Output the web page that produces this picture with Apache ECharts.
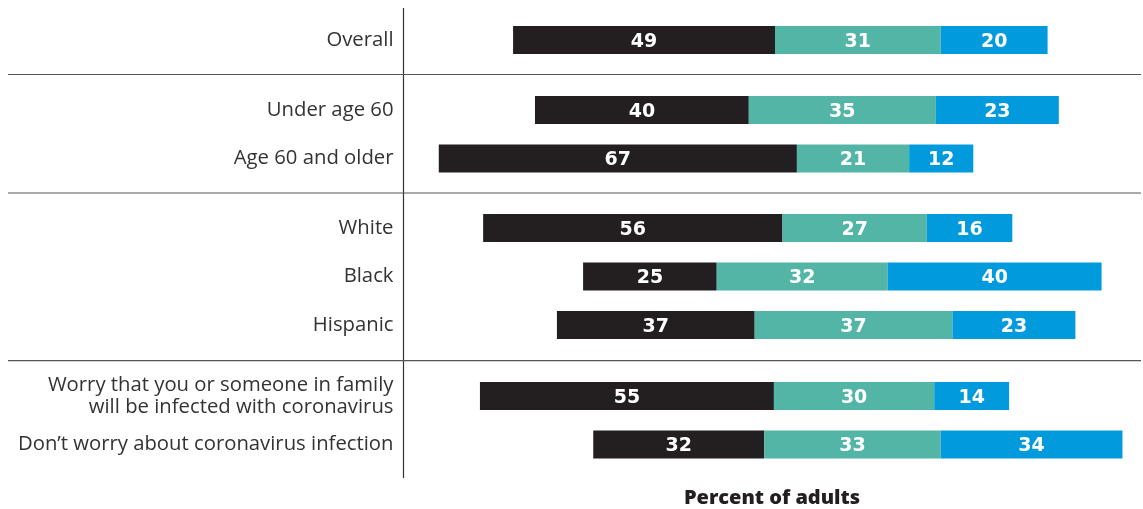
<!DOCTYPE html>
<html>
<head>
<meta charset="utf-8">
<script src="https://cdn.jsdelivr.net/npm/echarts@6/dist/echarts.min.js"></script>
<style>html,body{margin:0;padding:0;background:#fff;}#c{width:1143px;height:509px;}</style>
</head>
<body>
<div id="c"></div>
<script>
const categories = [
  'Overall',
  'Under age 60', 'Age 60 and older',
  'White', 'Black', 'Hispanic',
  'Worry that you or someone in family\nwill be infected with coronavirus',
  'Don\u2019t worry about coronavirus infection'
];
const groupSizes = [1, 2, 3, 2];
const offsets = [20.5, 24.6, 6.6, 14.9, 33.6, 28.7, 14.3, 35.5];
const blackVals = [49, 40, 67, 56, 25, 37, 55, 32];
const tealVals = [31, 35, 21, 27, 32, 37, 30, 33];
const blueVals = [20, 23, 12, 16, 40, 23, 14, 34];
const xMax = 135;

const FONT = 'Open Sans';
const chart = echarts.init(document.getElementById('c'), null, {renderer: 'canvas'});

const rowPitch = 48.5;
const grids = [], xAxes = [], yAxes = [], series = [];
const groupCenters = [40, 110, 228, 396];
let idx = 0;
groupSizes.forEach((n, g) => {
  const top = groupCenters[g] - rowPitch / 2;
  grids.push({left: 403.5, right: 17.9, top: top, height: rowPitch * n});
  xAxes.push({type: 'value', gridIndex: g, min: 0, max: xMax, show: false});
  yAxes.push({
    type: 'category', gridIndex: g, inverse: true,
    data: categories.slice(idx, idx + n),
    axisLine: {show: false}, axisTick: {show: false}, splitLine: {show: false},
    axisLabel: {color: '#333', fontFamily: FONT, fontSize: 20.3, margin: 10, lineHeight: 21.5,
      padding: [6, 0, 0, 0]}
  });
  const mk = (name, vals, color, lab) => ({
    name: name, type: 'bar', stack: 's' + g, xAxisIndex: g, yAxisIndex: g,
    barWidth: 28, data: vals.slice(idx, idx + n),
    itemStyle: {color: color}, silent: !lab,
    label: lab ? {show: true, position: 'inside', offset: [0, 2], color: '#fff', fontFamily: 'DejaVu Sans',
      fontWeight: 'bold', fontSize: 19} : {show: false}
  });
  series.push(mk('offset', offsets, 'rgba(0,0,0,0)', false));
  series.push(mk('black', blackVals, '#231f20', true));
  series.push(mk('teal', tealVals, '#53b5a6', true));
  series.push(mk('blue', blueVals, '#009add', true));
  idx += n;
});

const lineStyle = {stroke: '#555', lineWidth: 1.2};
chart.setOption({
  animation: false,
  grid: grids, xAxis: xAxes, yAxis: yAxes, series: series,
  graphic: [
    {type: 'line', shape: {x1: 403.5, y1: 8, x2: 403.5, y2: 478}, style: {stroke: '#333', lineWidth: 1.2}},
    {type: 'line', shape: {x1: 8, y1: 74.5, x2: 1141, y2: 74.5}, style: lineStyle},
    {type: 'line', shape: {x1: 8, y1: 193, x2: 1141, y2: 193}, style: lineStyle},
    {type: 'line', shape: {x1: 8, y1: 360.7, x2: 1141, y2: 360.7}, style: lineStyle},
    {type: 'text', x: 772, y: 498, style: {text: 'Percent of adults', fill: '#231f20',
      font: '800 20px "Open Sans"', textAlign: 'center', textVerticalAlign: 'middle'}}
  ]
});
</script>
</body>
</html>
